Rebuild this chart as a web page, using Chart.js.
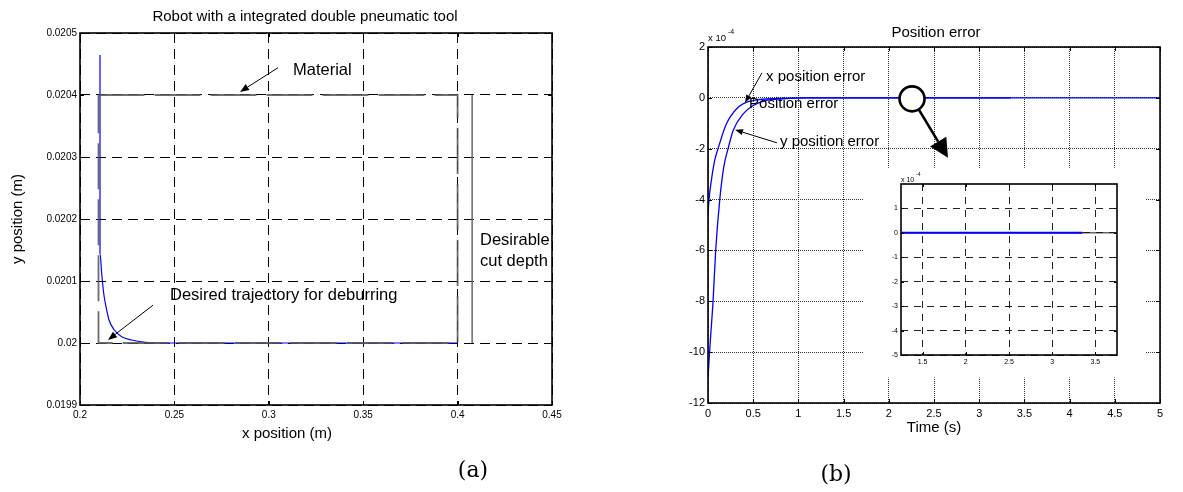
<!DOCTYPE html>
<html><head><meta charset="utf-8">
<script src="https://cdn.jsdelivr.net/npm/chart.js@4.4.1/dist/chart.umd.min.js"></script>
<style>
html,body{margin:0;padding:0;background:#fff;width:1183px;height:492px;overflow:hidden;}
.box{position:absolute;}
</style></head><body>
<div class="box" style="left:0;top:0;width:600px;height:492px"><canvas id="ca"></canvas></div>
<div class="box" style="left:620px;top:0;width:563px;height:492px"><canvas id="cb"></canvas></div>
<div class="box" style="left:870px;top:170px;width:260px;height:200px"><canvas id="ci"></canvas></div>
<script>
// ===== Panel (a): robot trajectory (x, y in metres) =====
const aTrajX = [0.21059, 0.21059, 0.21149, 0.21255, 0.21377, 0.21536, 0.21817, 0.22209, 0.22738, 0.23443, 0.24327, 0.24942, 0.4];
const aTrajY = [0.0204645, 0.0201447, 0.0201124, 0.0200802, 0.0200586, 0.0200371, 0.020021, 0.0200102, 0.0200048, 0.0200011, 0.0200, 0.0200, 0.0200];
const aMaterialX = [0.2098, 0.4, 0.4, 0.2098, 0.2098];
const aMaterialY = [0.0204, 0.0204, 0.0200, 0.0200, 0.0204];
const aCutDepthX = [0.4077, 0.4077];
const aCutDepthY = [0.0204, 0.0200];
const aXTicks = [0.2, 0.25, 0.3, 0.35, 0.4, 0.45];
const aXTickLabels = ['0.2', '0.25', '0.3', '0.35', '0.4', '0.45'];
const aYTicks = [0.0199, 0.02, 0.0201, 0.0202, 0.0203, 0.0204, 0.0205];
const aYTickLabels = ['0.0199', '0.02', '0.0201', '0.0202', '0.0203', '0.0204', '0.0205'];

// ===== Panel (b): position error (values in units of 1e-4 m) =====
const bXErrT = [0, 0.011, 0.037, 0.074, 0.111, 0.204, 0.333, 0.426, 0.537, 0.722, 1.02, 5];
const bXErrV = [-4.56, -4.0, -3.25, -2.46, -2.0, -1.02, -0.37, -0.17, -0.08, -0.03, 0, 0];
const bYErrT = [0, 0.026, 0.056, 0.085, 0.13, 0.174, 0.222, 0.278, 0.389, 0.5, 0.648, 0.833, 1.09, 3.35];
const bYErrV = [-10.98, -9.54, -7.99, -6.0, -4.0, -2.72, -2.0, -1.28, -0.63, -0.30, -0.10, -0.04, 0, 0];
const bXTicks = [0, 0.5, 1, 1.5, 2, 2.5, 3, 3.5, 4, 4.5, 5];
const bXTickLabels = ['0', '0.5', '1', '1.5', '2', '2.5', '3', '3.5', '4', '4.5', '5'];
const bYTicks = [-12, -10, -8, -6, -4, -2, 0, 2];
const bYTickLabels = ['-12', '-10', '-8', '-6', '-4', '-2', '0', '2'];
// inset (zoom of panel b)
const iXTicks = [1.5, 2, 2.5, 3, 3.5];
const iXTickLabels = ['1.5', '2', '2.5', '3', '3.5'];
const iYTicks = [-5, -4, -3, -2, -1, 0, 1];
const iYTickLabels = ['-5', '-4', '-3', '-2', '-1', '0', '1'];

const FONT = "'Liberation Sans', Arial, Helvetica, sans-serif";
function pts(xs, ys) { return xs.map((x, i) => ({ x: x, y: ys[i] })); }

function scale(min, max, vals, labels, size, pad, fix, grid, dash, isX) {
  return {
    type: 'linear', min: min, max: max,
    afterBuildTicks: s => { s.ticks = vals.map(v => ({ value: v })); },
    afterFit: s => { if (isX) s.height = fix; else s.width = fix; },
    ticks: { autoSkip: false, maxRotation: 0, minRotation: 0, color: '#000', padding: pad,
      font: { family: FONT, size: size }, callback: (v, i) => labels[i] },
    grid: { color: grid, lineWidth: 1, drawTicks: false },
    border: { display: false, dash: dash }
  };
}

function txt(ctx, s, x, y, size, align, family) {
  ctx.save();
  ctx.fillStyle = '#000';
  ctx.font = size + 'px ' + (family || FONT);
  ctx.textAlign = align || 'left';
  ctx.textBaseline = 'middle';
  ctx.fillText(s, x, y);
  ctx.restore();
}
function arrow(ctx, x1, y1, x2, y2, hl, hw, lw) {
  const ang = Math.atan2(y2 - y1, x2 - x1);
  const bx = x2 - hl * Math.cos(ang), by = y2 - hl * Math.sin(ang);
  ctx.save();
  ctx.strokeStyle = '#000'; ctx.fillStyle = '#000'; ctx.lineWidth = lw; ctx.setLineDash([]);
  ctx.beginPath(); ctx.moveTo(x1, y1); ctx.lineTo(bx, by); ctx.stroke();
  ctx.beginPath();
  ctx.moveTo(x2, y2);
  ctx.lineTo(bx + hw / 2 * Math.sin(ang), by - hw / 2 * Math.cos(ang));
  ctx.lineTo(bx - hw / 2 * Math.sin(ang), by + hw / 2 * Math.cos(ang));
  ctx.closePath(); ctx.fill();
  ctx.restore();
}
function boxTicks(chart, xv, yv, len, lw) {
  const { ctx, chartArea: a, scales: { x, y } } = chart;
  ctx.save();
  ctx.strokeStyle = '#000'; ctx.lineWidth = lw; ctx.setLineDash([]);
  ctx.strokeRect(a.left, a.top, a.right - a.left, a.bottom - a.top);
  ctx.lineWidth = 1;
  ctx.beginPath();
  xv.forEach(v => { const p = Math.round(x.getPixelForValue(v)) + 0.5;
    ctx.moveTo(p, a.bottom); ctx.lineTo(p, a.bottom - len); ctx.moveTo(p, a.top); ctx.lineTo(p, a.top + len); });
  yv.forEach(v => { const p = Math.round(y.getPixelForValue(v)) + 0.5;
    ctx.moveTo(a.left, p); ctx.lineTo(a.left + len, p); ctx.moveTo(a.right, p); ctx.lineTo(a.right - len, p); });
  ctx.stroke();
  ctx.restore();
}

// ---------------- Chart (a) ----------------
const plugA = {
  id: 'plugA',
  afterDraw(chart) {
    const { ctx, chartArea: a, scales: { x, y } } = chart;
    boxTicks(chart, aXTicks, aYTicks, 4, 1.6);
    const cx = (a.left + a.right) / 2;
    txt(ctx, 'Robot with a integrated double pneumatic tool', cx - 11, a.top - 16, 15, 'center');
    txt(ctx, 'x position (m)', cx - 29, a.bottom + 29, 15, 'center');
    ctx.save(); ctx.translate(a.left - 62, (a.top + a.bottom) / 2); ctx.rotate(-Math.PI / 2);
    txt(ctx, 'y position (m)', 0, 0, 15, 'center'); ctx.restore();
    txt(ctx, 'Material', x.getPixelForValue(0.3128), y.getPixelForValue(0.020440), 16.5);
    arrow(ctx, x.getPixelForValue(0.30487), y.getPixelForValue(0.020444), x.getPixelForValue(0.28475), y.getPixelForValue(0.020405), 9, 7, 1);
    txt(ctx, 'Desirable', x.getPixelForValue(0.41186), y.getPixelForValue(0.020165), 16.5);
    txt(ctx, 'cut depth', x.getPixelForValue(0.41186), y.getPixelForValue(0.020131), 16.5);
    txt(ctx, 'Desired trajectory for deburring', x.getPixelForValue(0.24767), y.getPixelForValue(0.020077), 16.5);
    arrow(ctx, x.getPixelForValue(0.23867), y.getPixelForValue(0.020061), x.getPixelForValue(0.21483), y.getPixelForValue(0.020005), 9, 7, 1);
    txt(ctx, '(a)', 473, 471, 22, 'center', "'DejaVu Serif', serif");
  }
};
new Chart(document.getElementById('ca'), {
  type: 'scatter',
  data: { datasets: [
    { data: pts(aMaterialX, aMaterialY), showLine: true, borderColor: 'rgba(85,85,85,0.85)', borderWidth: 1.8, borderDash: [46, 10], pointRadius: 0, tension: 0 },
    { data: pts(aCutDepthX, aCutDepthY), showLine: true, borderColor: '#6a6a6a', borderWidth: 1.5, pointRadius: 0, tension: 0 },
    { data: pts(aTrajX, aTrajY), showLine: true, borderColor: '#0000ff', borderWidth: 1.2, pointRadius: 0, cubicInterpolationMode: 'monotone' }
  ] },
  options: {
    responsive: true, maintainAspectRatio: false, animation: false, events: [],
    layout: { padding: { left: 0, top: 33, right: 48, bottom: 62 } },
    plugins: { legend: { display: false }, tooltip: { enabled: false } },
    scales: {
      x: scale(0.2, 0.45, aXTicks, aXTickLabels, 10, 4, 25, '#000', [10, 6], true),
      y: scale(0.0199, 0.0205, aYTicks, aYTickLabels, 10, 3, 80, '#000', [10, 6], false)
    }
  },
  plugins: [plugA]
});

// ---------------- Chart (b) ----------------
const plugB = {
  id: 'plugB',
  beforeDatasetsDraw(chart) {
    const { ctx, scales: { x, y } } = chart;
    const x1 = x.getPixelForValue(1.715), x2 = x.getPixelForValue(4.834);
    const y1 = y.getPixelForValue(-2.75), y2 = y.getPixelForValue(-11.0);
    ctx.save(); ctx.fillStyle = '#fff'; ctx.fillRect(x1, y1, x2 - x1, y2 - y1); ctx.restore();
  },
  afterDraw(chart) {
    const { ctx, chartArea: a, scales: { x, y } } = chart;
    boxTicks(chart, bXTicks, bYTicks, 4, 1.6);
    txt(ctx, 'Position error', (a.left + a.right) / 2 + 2, a.top - 14, 15, 'center');
    txt(ctx, 'Time (s)', (a.left + a.right) / 2, a.bottom + 25, 15, 'center');
    txt(ctx, 'x 10', a.left, a.top - 9, 9.5);
    txt(ctx, '-4', a.left + 20, a.top - 15, 7);
    txt(ctx, 'x position error', x.getPixelForValue(0.642), y.getPixelForValue(0.825), 15);
    arrow(ctx, x.getPixelForValue(0.597), y.getPixelForValue(0.982), x.getPixelForValue(0.409), y.getPixelForValue(-0.196), 8, 6, 1);
    txt(ctx, 'Position error', x.getPixelForValue(0.454), y.getPixelForValue(-0.236), 15);
    txt(ctx, 'y position error', x.getPixelForValue(0.796), y.getPixelForValue(-1.729), 15);
    arrow(ctx, x.getPixelForValue(0.763), y.getPixelForValue(-1.768), x.getPixelForValue(0.299), y.getPixelForValue(-1.257), 8, 6, 1);
    // magnifier circle and arrow
    ctx.save();
    ctx.beginPath(); ctx.arc(x.getPixelForValue(2.257), y.getPixelForValue(0) + 1, 12.5, 0, Math.PI * 2);
    ctx.fillStyle = '#fff'; ctx.fill(); ctx.lineWidth = 2.6; ctx.strokeStyle = '#000'; ctx.stroke();
    ctx.restore();
    arrow(ctx, x.getPixelForValue(2.334), y.getPixelForValue(-0.472), x.getPixelForValue(2.655), y.getPixelForValue(-2.358), 19, 19, 2.6);
    txt(ctx, '(b)', 216, 475, 22, 'center', "'DejaVu Serif', serif");
  }
};
new Chart(document.getElementById('cb'), {
  type: 'scatter',
  data: { datasets: [
    { data: pts(bXErrT, bXErrV), showLine: true, borderColor: '#0000ff', borderWidth: 1.3, pointRadius: 0, cubicInterpolationMode: 'monotone' },
    { data: pts(bYErrT, bYErrV), showLine: true, borderColor: '#0000ff', borderWidth: 1.3, pointRadius: 0, cubicInterpolationMode: 'monotone' }
  ] },
  options: {
    responsive: true, maintainAspectRatio: false, animation: false, events: [],
    layout: { padding: { left: 0, top: 47, right: 23, bottom: 64 } },
    plugins: { legend: { display: false }, tooltip: { enabled: false } },
    scales: {
      x: scale(0, 5, bXTicks, bXTickLabels, 11, 4, 25, '#333', [1, 1], true),
      y: scale(-12, 2, bYTicks, bYTickLabels, 11, 3, 88, '#333', [1, 1], false)
    }
  },
  plugins: [plugB]
});

// ---------------- Inset ----------------
const plugI = {
  id: 'plugI',
  afterDraw(chart) {
    const { ctx, chartArea: a } = chart;
    boxTicks(chart, iXTicks, iYTicks, 3, 1.6);
    txt(ctx, 'x 10', a.left, a.top - 4, 7);
    txt(ctx, '-4', a.left + 15, a.top - 9, 5);
  }
};
new Chart(document.getElementById('ci'), {
  type: 'scatter',
  data: { datasets: [
    { data: pts(bYErrT, bYErrV), showLine: true, borderColor: '#0000ff', borderWidth: 2, pointRadius: 0, tension: 0 },
    { data: pts(bXErrT, bXErrV), showLine: true, borderColor: '#1a1a1a', borderWidth: 1, pointRadius: 0, tension: 0 }
  ] },
  options: {
    responsive: true, maintainAspectRatio: false, animation: false, events: [],
    layout: { padding: { left: 0, top: 14, right: 13, bottom: 0 } },
    plugins: { legend: { display: false }, tooltip: { enabled: false } },
    scales: {
      x: scale(1.25, 3.75, iXTicks, iXTickLabels, 7, 3, 15, '#222', [7, 6], true),
      y: scale(-5, 2, iYTicks, iYTickLabels, 7, 3, 31, '#222', [7, 6], false)
    }
  },
  plugins: [plugI]
});
</script>
</body></html>
